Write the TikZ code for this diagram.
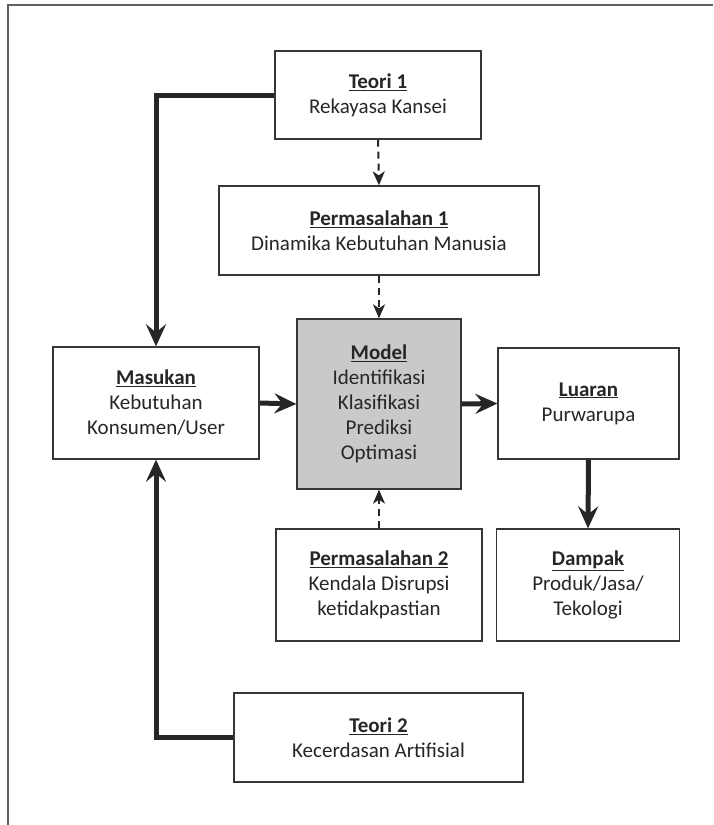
\documentclass[tikz,border=0pt]{standalone}
\usepackage{fontspec}
\setmainfont{Carlito}
\usetikzlibrary{arrows.meta}

\definecolor{modelgray}{RGB}{200,201,203}
\definecolor{linegray}{RGB}{55,55,55}
\definecolor{framegray}{RGB}{95,95,95}

\tikzset{
  box/.style={draw=linegray, line width=1.3pt, fill=white, align=center,
    inner sep=0pt, text=black!85, font=\fontsize{21}{25}\selectfont},
  flow/.style={draw=black!85, line width=5pt,
    -{Stealth[length=22pt,width=20pt,inset=8pt]}},
  hint/.style={draw=black!85, line width=2pt, dash pattern=on 7pt off 5pt,
    -{Stealth[length=14pt,width=12pt,inset=4pt]}}
}
\newcommand{\boxtitle}[1]{\underline{\textbf{#1}}}

\begin{document}
\begin{tikzpicture}[x=1pt,y=-1pt]
    \useasboundingbox (0,0) rectangle (713,825);
    % draw frame
    \draw[framegray, line width=1.5pt] (713,5) -- (8,5) -- (8,825);

    % draw boxes
    \node[box, minimum width=206pt, minimum height=88pt] (teori1) at (378,95)
      {\boxtitle{Teori 1}\\Rekayasa Kansei};
    \node[box, minimum width=320pt, minimum height=89pt] (masalah1) at (379,230.5)
      {\boxtitle{Permasalahan 1}\\Dinamika Kebutuhan Manusia};
    \node[box, minimum width=206pt, minimum height=112pt] (masukan) at (156,403)
      {\boxtitle{Masukan}\\Kebutuhan\\Konsumen/User};
    \node[box, fill=modelgray, minimum width=164pt, minimum height=170pt] (model) at (379,404)
      {\boxtitle{Model}\\Identifikasi\\Klasifikasi\\Prediksi\\Optimasi};
    \node[box, minimum width=181pt, minimum height=111pt] (luaran) at (588.5,403.5)
      {\boxtitle{Luaran}\\Purwarupa};
    \node[box, minimum width=206pt, minimum height=112pt] (masalah2) at (379,585)
      {\boxtitle{Permasalahan 2}\\Kendala Disrupsi\\ketidakpastian};
    \node[box, minimum width=183pt, minimum height=112pt] (dampak) at (588,585)
      {\boxtitle{Dampak}\\Produk/Jasa/\\Tekologi};
    \node[box, minimum width=289pt, minimum height=89pt] (teori2) at (378.5,737.5)
      {\boxtitle{Teori 2}\\Kecerdasan Artifisial};

    % draw thick arrows
    \draw[flow] (teori1.west) -| (masukan.north);
    \draw[flow] (teori2.west) -| (masukan.south);
    \draw[flow] (masukan.east) -- (model.west);
    \draw[flow] (model.east) -- (luaran.west);
    \draw[flow] (luaran.south) -- (dampak.north);

    % draw dashed arrows
    \draw[hint] (teori1.south) -- (masalah1.north);
    \draw[hint] (masalah1.south) -- (model.north);
    \draw[hint] (masalah2.north) -- (model.south);
  \end{tikzpicture}
\end{document}
